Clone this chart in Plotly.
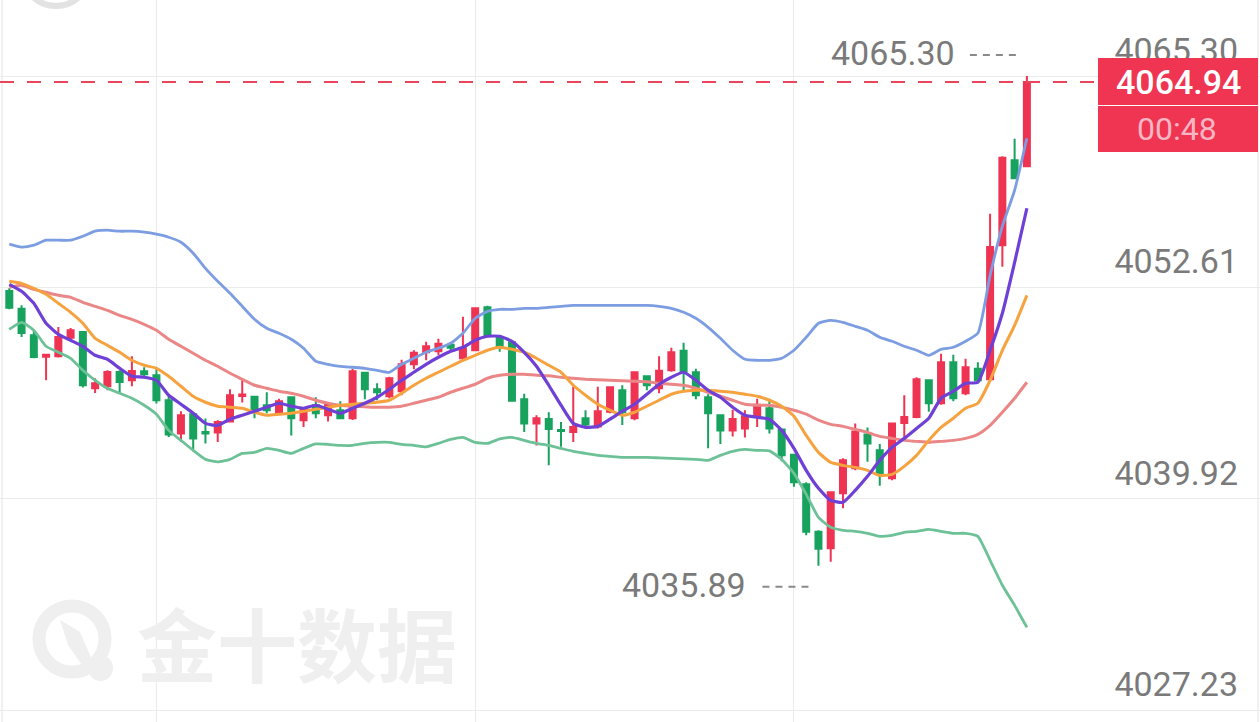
import plotly.graph_objects as go
import numpy as np

# ---------------- data ----------------
idx = list(range(84))

opens = [4052.39, 4051.33, 4049.73, 4048.44, 4048.47, 4049.59, 4049.93, 4046.55, 4046.67, 4047.53,
         4047.03, 4047.57, 4047.33, 4045.83, 4043.83, 4044.99, 4043.93, 4043.89, 4044.56, 4046.08,
         4046.04, 4045.53, 4045.11, 4046.01, 4044.63, 4045.53, 4044.93, 4045.23, 4044.75, 4047.48,
         4046.49, 4046.07, 4046.37, 4047.99, 4048.71, 4048.77, 4049.16, 4048.35, 4048.83, 4051.41,
         4049.58, 4049.31, 4045.89, 4044.44, 4044.71, 4044.05, 4043.93, 4044.75, 4044.26, 4045.14,
         4046.43, 4044.75, 4047.27, 4046.55, 4047.63, 4048.80, 4047.51, 4046.01, 4044.93, 4044.02,
         4044.14, 4044.93, 4045.35, 4044.08, 4042.55, 4040.78, 4037.93, 4036.94, 4040.24, 4041.74,
         4043.78, 4042.82, 4041.14, 4044.47, 4044.83, 4047.03, 4045.65, 4048.11, 4046.25, 4047.72,
         4047.09, 4055.14, 4060.24, 4059.88]

highs = [4052.55, 4051.53, 4050.03, 4048.62, 4050.23, 4050.17, 4049.97, 4047.15, 4047.63, 4047.63,
         4048.47, 4047.81, 4047.79, 4046.13, 4045.17, 4045.12, 4044.73, 4044.63, 4046.49, 4047.13,
         4046.07, 4046.31, 4045.92, 4046.07, 4045.41, 4046.01, 4045.71, 4045.77, 4047.72, 4047.54,
         4046.85, 4047.24, 4048.26, 4048.83, 4049.34, 4049.52, 4049.31, 4050.84, 4051.38, 4051.50,
         4049.70, 4049.34, 4046.22, 4044.93, 4045.11, 4044.53, 4046.64, 4045.23, 4046.64, 4046.67,
         4046.73, 4047.57, 4047.33, 4048.47, 4048.98, 4049.28, 4047.72, 4046.19, 4044.96, 4045.26,
         4045.23, 4045.92, 4045.92, 4044.11, 4042.61, 4040.90, 4038.02, 4040.36, 4042.34, 4044.44,
         4044.20, 4043.21, 4044.50, 4046.13, 4047.21, 4047.09, 4048.62, 4048.56, 4048.32, 4048.11,
         4057.03, 4060.48, 4061.53, 4065.30]

lows = [4051.29, 4049.63, 4048.35, 4047.03, 4048.39, 4049.47, 4046.59, 4046.26, 4046.43, 4046.33,
        4046.67, 4047.27, 4045.63, 4043.62, 4043.32, 4042.82, 4043.23, 4043.32, 4044.52, 4045.69,
        4044.75, 4045.05, 4044.99, 4043.72, 4044.23, 4044.75, 4044.56, 4044.71, 4044.65, 4045.89,
        4045.83, 4045.95, 4046.13, 4047.69, 4048.23, 4048.53, 4048.83, 4048.26, 4048.80, 4049.67,
        4048.74, 4045.74, 4043.93, 4043.12, 4041.92, 4043.03, 4043.33, 4044.26, 4044.14, 4045.05,
        4044.35, 4044.63, 4046.43, 4046.25, 4047.54, 4046.43, 4045.89, 4042.94, 4043.21, 4043.66,
        4043.60, 4044.23, 4043.84, 4042.16, 4040.63, 4037.72, 4035.89, 4036.13, 4039.34, 4041.62,
        4042.13, 4040.69, 4041.02, 4043.63, 4044.75, 4045.14, 4045.56, 4045.77, 4046.13, 4046.94,
        4047.03, 4053.84, 4059.13, 4059.85]

closes = [4051.39, 4049.87, 4048.43, 4048.56, 4049.63, 4050.03, 4046.73, 4046.85, 4047.53, 4046.93,
          4047.59, 4047.39, 4045.83, 4043.78, 4044.93, 4043.53, 4043.84, 4044.52, 4046.13, 4046.17,
          4045.17, 4045.23, 4045.77, 4044.75, 4045.29, 4045.05, 4045.59, 4044.75, 4047.57, 4046.49,
          4046.31, 4047.15, 4047.99, 4048.68, 4049.07, 4049.22, 4048.98, 4048.95, 4051.35, 4049.73,
          4049.07, 4045.80, 4044.44, 4044.75, 4044.11, 4043.99, 4044.23, 4044.38, 4045.17, 4046.61,
          4045.11, 4047.51, 4046.73, 4047.60, 4048.71, 4047.54, 4046.13, 4045.05, 4044.02, 4044.71,
          4044.87, 4045.56, 4044.14, 4042.52, 4040.90, 4037.93, 4036.91, 4040.30, 4042.22, 4043.96,
          4043.24, 4041.38, 4044.44, 4044.83, 4047.09, 4045.65, 4048.11, 4045.95, 4047.81, 4047.03,
          4055.03, 4060.39, 4059.16, 4064.94]

boll_upper = [4055.20, 4055.02, 4055.14, 4055.44, 4055.44, 4055.44, 4055.68, 4055.98, 4056.04, 4055.98,
              4055.98, 4055.92, 4055.80, 4055.62, 4055.32, 4054.66, 4053.75, 4052.97, 4052.25, 4051.47,
              4050.69, 4050.15, 4049.85, 4049.49, 4048.95, 4048.17, 4047.99, 4047.87, 4047.81, 4047.75,
              4047.63, 4047.51, 4047.99, 4048.35, 4048.71, 4048.95, 4049.25, 4049.85, 4050.75, 4051.17,
              4051.29, 4051.29, 4051.35, 4051.35, 4051.41, 4051.47, 4051.53, 4051.53, 4051.53, 4051.53,
              4051.53, 4051.53, 4051.53, 4051.47, 4051.35, 4051.11, 4050.75, 4050.21, 4049.55, 4048.83,
              4048.29, 4048.23, 4048.23, 4048.35, 4048.83, 4049.61, 4050.45, 4050.63, 4050.51, 4050.27,
              4050.03, 4049.61, 4049.37, 4049.07, 4048.83, 4048.53, 4048.89, 4049.01, 4049.37, 4049.85,
              4053.33, 4056.28, 4058.44, 4061.56]

boll_lower = [4050.09, 4050.51, 4050.03, 4049.07, 4048.71, 4048.35, 4047.63, 4047.03, 4046.55, 4046.25,
              4045.95, 4045.53, 4044.99, 4044.02, 4043.42, 4042.82, 4042.28, 4042.13, 4042.28, 4042.64,
              4042.70, 4042.94, 4042.82, 4042.64, 4042.94, 4043.21, 4043.18, 4043.12, 4043.12, 4043.24,
              4043.30, 4043.30, 4043.18, 4043.12, 4043.03, 4043.24, 4043.48, 4043.60, 4043.30, 4043.24,
              4043.51, 4043.60, 4043.42, 4043.24, 4043.12, 4042.94, 4042.76, 4042.64, 4042.52, 4042.46,
              4042.40, 4042.40, 4042.40, 4042.37, 4042.34, 4042.31, 4042.28, 4042.22, 4042.52, 4042.76,
              4042.88, 4042.82, 4042.79, 4042.28, 4041.44, 4040.18, 4038.80, 4038.20, 4038.02, 4037.96,
              4037.84, 4037.66, 4037.72, 4037.90, 4037.96, 4038.08, 4037.96, 4037.84, 4037.84, 4037.66,
              4036.22, 4034.72, 4033.51, 4032.19]

ma20 = [4052.61, 4052.73, 4052.49, 4052.31, 4052.13, 4052.01, 4051.71, 4051.47, 4051.23, 4050.93,
        4050.69, 4050.39, 4050.03, 4049.49, 4049.07, 4048.65, 4048.23, 4047.87, 4047.45, 4047.09,
        4046.73, 4046.55, 4046.37, 4046.25, 4046.07, 4045.83, 4045.65, 4045.53, 4045.47, 4045.44,
        4045.41, 4045.41, 4045.47, 4045.65, 4045.83, 4046.01, 4046.31, 4046.55, 4046.79, 4047.15,
        4047.33, 4047.39, 4047.39, 4047.33, 4047.30, 4047.21, 4047.15, 4047.09, 4047.06, 4047.03,
        4047.00, 4046.97, 4046.94, 4046.85, 4046.79, 4046.73, 4046.55, 4046.31, 4046.07, 4045.83,
        4045.59, 4045.53, 4045.53, 4045.41, 4045.23, 4044.99, 4044.63, 4044.38, 4044.26, 4044.08,
        4043.90, 4043.66, 4043.54, 4043.42, 4043.36, 4043.30, 4043.36, 4043.42, 4043.54, 4043.78,
        4044.32, 4045.11, 4045.95, 4046.91]

ma10 = [4052.97, 4052.85, 4052.55, 4052.19, 4051.65, 4051.11, 4050.45, 4049.55, 4049.13, 4048.71,
        4048.23, 4047.93, 4047.75, 4047.27, 4046.67, 4046.07, 4045.71, 4045.47, 4045.41, 4045.35,
        4045.11, 4044.93, 4044.99, 4045.05, 4045.17, 4045.29, 4045.41, 4045.53, 4045.59, 4045.65,
        4045.71, 4045.83, 4046.25, 4046.73, 4047.15, 4047.51, 4047.87, 4048.23, 4048.53, 4048.83,
        4049.01, 4048.89, 4048.71, 4048.35, 4047.93, 4047.51, 4046.73, 4046.13, 4045.59, 4045.23,
        4044.93, 4045.11, 4045.47, 4045.83, 4046.19, 4046.37, 4046.43, 4046.43, 4046.37, 4046.31,
        4046.19, 4046.07, 4045.83, 4045.47, 4044.87, 4043.72, 4042.70, 4042.10, 4041.92, 4041.80,
        4041.62, 4041.32, 4041.38, 4041.86, 4042.52, 4043.42, 4044.20, 4044.75, 4045.35, 4045.65,
        4047.03, 4048.83, 4050.33, 4052.13]

ma5 = [4052.79, 4052.37, 4051.65, 4050.45, 4049.79, 4049.43, 4049.07, 4048.53, 4048.29, 4047.75,
       4047.27, 4047.21, 4047.03, 4046.13, 4045.59, 4045.05, 4044.44, 4044.32, 4044.69, 4044.93,
       4045.17, 4045.41, 4045.65, 4045.47, 4045.35, 4045.53, 4045.29, 4045.05, 4045.35, 4045.65,
       4046.01, 4046.49, 4047.03, 4047.51, 4047.99, 4048.41, 4048.77, 4049.01, 4049.43, 4049.67,
       4049.67, 4049.37, 4048.71, 4047.87, 4046.73, 4045.53, 4044.44, 4044.20, 4044.26, 4044.69,
       4045.17, 4045.59, 4046.19, 4046.79, 4047.21, 4047.51, 4047.03, 4046.43, 4046.01, 4045.41,
       4044.93, 4044.81, 4044.69, 4044.02, 4042.94, 4041.62, 4040.54, 4039.82, 4039.70, 4040.42,
       4041.26, 4042.22, 4043.00, 4043.54, 4044.14, 4044.75, 4045.95, 4046.37, 4046.85, 4046.91,
       4048.83, 4051.05, 4054.11, 4057.36]

y_ticks = [4065.30, 4052.61, 4039.92, 4027.23]
x_grid = [12, 38, 64]
countdown = "00:48"
watermark = "金十数据"

# ---------------- style ----------------
W, H = 1260, 722
RED = "#EE3452"
GREEN = "#17A25E"
GRID = "#EBEBEB"
LABEL = "#7A7A7A"
FONT = "Roboto, sans-serif"


def px(x):
    return x / W


def py(y):
    return 1 - y / H


fig = go.Figure()
fig.add_trace(go.Candlestick(
    x=idx, open=opens, high=highs, low=lows, close=closes,
    increasing=dict(line=dict(color=RED, width=2), fillcolor=RED),
    decreasing=dict(line=dict(color=GREEN, width=2), fillcolor=GREEN),
    whiskerwidth=0, hoverinfo="skip", showlegend=False))

for arr, col, lw in [(boll_upper, "#7C9DE2", 2.8), (boll_lower, "#6CC197", 2.8), (ma20, "#EB8686", 3.0),
                     (ma10, "#F6A23E", 3.0), (ma5, "#6F40D6", 3.2)]:
    fig.add_trace(go.Scatter(x=idx, y=arr, mode="lines", hoverinfo="skip", showlegend=False,
                             line=dict(color=col, width=lw, shape="spline", smoothing=0.5)))

shapes = []
annotations = []

# frame lines
shapes.append(dict(type="line", xref="paper", yref="paper", x0=px(2), x1=px(2), y0=0, y1=1,
                   line=dict(color="#E3E3E3", width=1), layer="below"))
shapes.append(dict(type="line", xref="paper", yref="paper", x0=px(1258), x1=px(1258), y0=0, y1=1,
                   line=dict(color="#E3E3E3", width=1), layer="below"))

# watermark logo
shapes.append(dict(type="circle", xref="paper", yref="paper",
                   x0=px(72 - 33), x1=px(72 + 33), y0=py(639 + 33), y1=py(639 - 33),
                   line=dict(color="#EFEFEF", width=13), layer="below"))
shapes.append(dict(type="circle", xref="paper", yref="paper",
                   x0=px(88), x1=px(113), y0=py(681), y1=py(655),
                   fillcolor="#EFEFEF", line=dict(width=0), layer="below"))
leaf = [(60, 620), (80, 632), (92, 660), (84, 668), (68, 645)]
path = "M " + " L ".join(f"{px(a):.5f},{py(b):.5f}" for a, b in leaf) + " Z"
shapes.append(dict(type="path", xref="paper", yref="paper", path=path,
                   fillcolor="#EFEFEF", line=dict(width=0), layer="below"))
# partial logo at top-left
shapes.append(dict(type="circle", xref="paper", yref="paper",
                   x0=px(22), x1=px(90), y0=py(6), y1=py(-62),
                   line=dict(color="#E2E2E2", width=6), layer="below"))

annotations.append(dict(text=watermark, xref="paper", yref="paper", x=px(297), y=py(641),
                        xanchor="center", yanchor="middle", showarrow=False,
                        font=dict(family="Noto Sans CJK SC", size=80, color="#EFEFEF", weight="bold")))

last = closes[-1]
# current price dashed line
shapes.append(dict(type="line", xref="paper", yref="y", x0=0, x1=px(1098), y0=last, y1=last,
                   line=dict(color="#E9465E", width=2.2, dash="14px,13px"), layer="above"))
# price box + countdown box (drawn above the axis labels, as in the reference)
shapes.append(dict(type="rect", xref="paper", yref="y", ysizemode="pixel", yanchor=last,
                   x0=px(1098), x1=px(1258), y0=-23, y1=24,
                   fillcolor="#EF3551", line=dict(width=0)))
shapes.append(dict(type="rect", xref="paper", yref="y", ysizemode="pixel", yanchor=last,
                   x0=px(1098), x1=px(1258), y0=-70, y1=-24,
                   fillcolor="#EF3551", line=dict(width=0)))
annotations.append(dict(text=f"{last:.2f}", xref="paper", yref="y", x=px(1178), y=last,
                        xanchor="center", yanchor="middle", showarrow=False,
                        font=dict(family=FONT, size=34, color="#FFFFFF", weight=500)))
annotations.append(dict(text=countdown, xref="paper", yref="y", x=px(1177), y=last, yshift=-47,
                        xanchor="center", yanchor="middle", showarrow=False,
                        font=dict(family=FONT, size=32, color="#F8B5C3")))

# high / low markers
hi_i = int(np.argmax(highs))
lo_i = int(np.argmin(lows))
hi_v = highs[hi_i]
lo_v = lows[lo_i]
annotations.append(dict(text=f"{hi_v:.2f}", xref="x", yref="y", x=hi_i, y=hi_v,
                        xanchor="right", yanchor="middle", xshift=-70, yshift=23, showarrow=False,
                        font=dict(family=FONT, size=34, color=LABEL)))
shapes.append(dict(type="line", xref="x", yref="y", xsizemode="pixel", ysizemode="pixel",
                   xanchor=hi_i, yanchor=hi_v, x0=-57, x1=-7, y0=21, y1=21,
                   line=dict(color="#8A8A8A", width=2, dash="7px,6px")))
annotations.append(dict(text=f"{lo_v:.2f}", xref="x", yref="y", x=lo_i, y=lo_v,
                        xanchor="right", yanchor="middle", xshift=-70, yshift=-19, showarrow=False,
                        font=dict(family=FONT, size=34, color=LABEL)))
shapes.append(dict(type="line", xref="x", yref="y", xsizemode="pixel", ysizemode="pixel",
                   xanchor=lo_i, yanchor=lo_v, x0=-56, x1=-6, y0=-21, y1=-21,
                   line=dict(color="#8A8A8A", width=2, dash="7px,6px")))

# axis scale: 12.26 px per candle, candle 0 at x=9.3
step = 12.26
x0 = -9.3 / step
x1 = x0 + W / step
ppu = (710 - 76) / (y_ticks[0] - y_ticks[-1])
y_top = y_ticks[0] + 76 / ppu
y_bot = y_ticks[-1] - (H - 710) / ppu

fig.update_layout(
    width=W, height=H, margin=dict(l=0, r=0, t=0, b=0),
    paper_bgcolor="white", plot_bgcolor="white", showlegend=False,
    xaxis=dict(range=[x0, x1], tickvals=x_grid, showticklabels=False, showgrid=True,
               gridcolor=GRID, gridwidth=1, zeroline=False, showline=False,
               rangeslider=dict(visible=False), fixedrange=True),
    yaxis=dict(range=[y_bot, y_top], tickvals=y_ticks, ticktext=[f"{t:.2f}" for t in y_ticks],
               side="right", ticklabelposition="inside", ticklabelshift=-26, ticklabelstandoff=19,
               ticklabeloverflow="allow",
               ticks="", showticklabels=True, tickfont=dict(family=FONT, size=34, color=LABEL),
               showgrid=True, gridcolor=GRID, gridwidth=1, zeroline=False, showline=False,
               fixedrange=True),
    shapes=shapes, annotations=annotations,
)

fig.write_html("out.html", config={"displayModeBar": False})
